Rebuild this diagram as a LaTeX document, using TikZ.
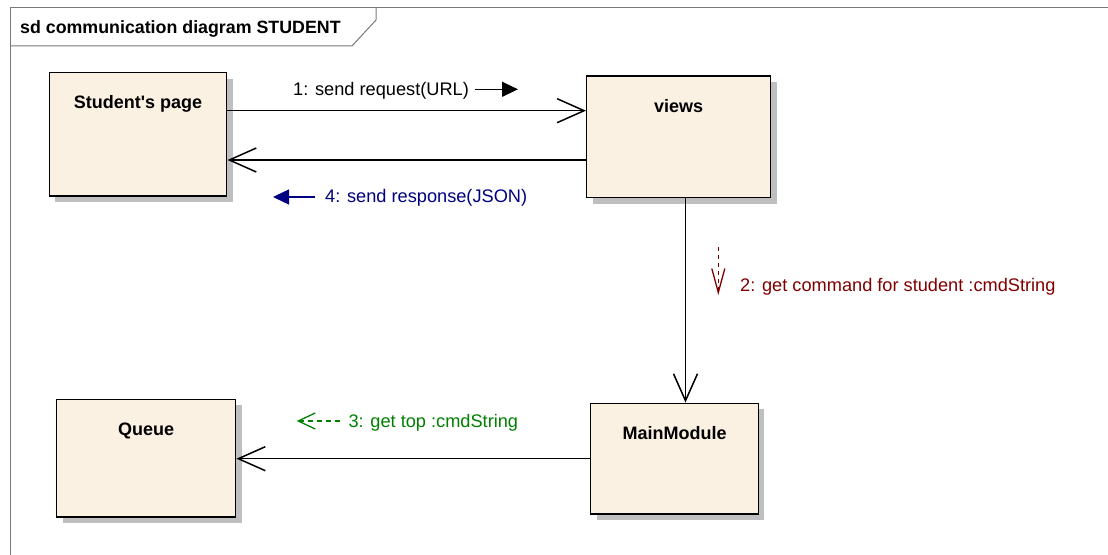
\documentclass[tikz,border=0pt]{standalone}
\usepackage{fontspec}
\setmainfont{Liberation Sans}
\usetikzlibrary{arrows.meta,shadows}

\definecolor{objfill}{HTML}{FBF1E3}
\definecolor{framegray}{HTML}{7A7A7A}
\definecolor{msgblue}{HTML}{000080}
\definecolor{msgred}{HTML}{800000}
\definecolor{msggreen}{HTML}{008000}

\tikzstyle{object}=[draw=black,fill=objfill,line width=1.5bp,rectangle,inner sep=0pt,drop shadow={opacity=1,fill=black!25,shadow xshift=6bp,shadow yshift=-6bp}]
\tikzstyle{objname}=[font=\fontsize{18bp}{22bp}\selectfont\bfseries,inner sep=0pt,anchor=base]
\tikzstyle{msglabel}=[font=\fontsize{18.2bp}{22bp}\selectfont,inner sep=0pt,anchor=base west]
\tikzstyle{link}=[line width=1.5bp,-{Straight Barb[length=27bp,width=24bp]}]
\tikzstyle{frame}=[draw=framegray,line width=1bp]

\begin{document}
\begin{tikzpicture}[x=1bp,y=1bp]
\clip (0,0) rectangle (1108,-555);
\fill[white] (0,0) rectangle (1108,-555);

% frame and its name tab
\draw[frame] (10,-570) -- (10,-8) -- (1120,-8);
\draw[frame] (10,-46) -- (352,-46) -- (376,-20) -- (376,-8);
\node[font=\fontsize{17.8bp}{22bp}\selectfont\bfseries,inner sep=0pt,anchor=base west] (frame-title) at (20,-33.3) {sd communication diagram STUDENT};

% objects
\node[object,minimum width=177.4bp,minimum height=123.3bp] (page) at (138,-134.3) {};
\node[objname] (page-name) at ([yshift=-37bp]page.north) {Student\textquotesingle s page};

\node[object,minimum width=184bp,minimum height=121.7bp] (views) at (678.7,-136.8) {};
\node[objname] (views-name) at ([yshift=-37bp]views.north) {views};

\node[object,minimum width=179bp,minimum height=117.7bp] (queue) at (146.2,-458.2) {};
\node[objname] (queue-name) at ([yshift=-37bp]queue.north) {Queue};

\node[object,minimum width=167.6bp,minimum height=110.7bp] (main) at (674.5,-458.7) {};
\node[objname] (main-name) at ([yshift=-37bp]main.north) {MainModule};

% links between objects
\draw[link] ([yshift=23.6bp]page.east) -- ([yshift=23.6bp]page.east -| views.west);
\draw[link] ([yshift=-25.7bp]page.east -| views.west) -- ([yshift=-25.7bp]page.east);
\draw[link] ([xshift=6.8bp]views.south) -- ([xshift=6.8bp]views.south |- main.north);
\draw[link] (main.west) -- (main.west -| queue.east);

% messages
\node[msglabel] (msg-1) at (293,-95.5) {1: send request(URL)};
\coordinate (msg-1-from) at (475,-89.3);
\coordinate (msg-1-to) at (518,-89.3);
\draw[line width=1.4bp,-{Triangle[length=16bp,width=15bp]}] (msg-1-from) -- (msg-1-to);

\node[msglabel,text=msgred] (msg-2) at (740,-292) {2: get command for student :cmdString};
\coordinate (msg-2-from) at (718.3,-246.7);
\coordinate (msg-2-to) at (718.3,-295);
\draw[msgred,line width=1.3bp,dash pattern=on 4bp off 4bp,-{Straight Barb[length=24bp,width=13bp]}] (msg-2-from) -- (msg-2-to);

\node[msglabel,text=msggreen] (msg-3) at (348.3,-427.5) {3: get top :cmdString};
\coordinate (msg-3-from) at (340,-421);
\coordinate (msg-3-to) at (296.7,-421);
\draw[msggreen,line width=1.3bp,dash pattern=on 5bp off 4bp,-{Straight Barb[length=17bp,width=16bp]}] (msg-3-from) -- (msg-3-to);

\node[msglabel,text=msgblue] (msg-4) at (325,-203) {4: send response(JSON)};
\coordinate (msg-4-from) at (315,-197);
\coordinate (msg-4-to) at (273,-197);
\draw[msgblue,line width=1.4bp,-{Triangle[length=16bp,width=15bp]}] (msg-4-from) -- (msg-4-to);

\end{tikzpicture}
\end{document}
